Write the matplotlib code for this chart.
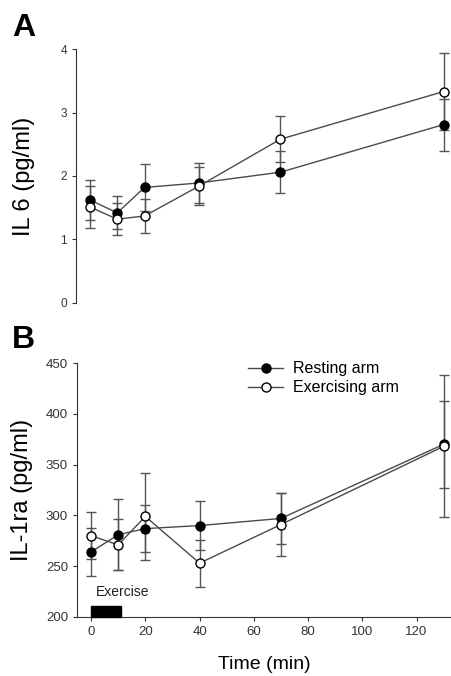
import matplotlib
matplotlib.use('Agg')
import matplotlib.pyplot as plt
from matplotlib.patches import Rectangle

plt.rcParams['font.family'] = ['Liberation Sans', 'DejaVu Sans']

# --- data ---
time = [0, 10, 20, 40, 70, 130]

il6_rest = [1.62, 1.42, 1.82, 1.89, 2.06, 2.81]
il6_rest_err = [0.31, 0.26, 0.37, 0.32, 0.33, 0.41]
il6_ex = [1.51, 1.32, 1.37, 1.84, 2.58, 3.33]
il6_ex_err = [0.33, 0.25, 0.27, 0.30, 0.36, 0.61]

il1ra_rest = [264, 281, 287, 290, 297, 370]
il1ra_rest_err = [24, 35, 23, 24, 25, 43]
il1ra_ex = [280, 271, 299, 253, 291, 368]
il1ra_ex_err = [23, 25, 43, 23, 31, 70]

exercise_window = (0, 11)

line_col = '#4a4a4a'
err_col = '#555555'
spine_col = '#333333'

fig = plt.figure(figsize=(4.51, 6.76), dpi=100)
axA = fig.add_axes([0.1685, 0.5518, 0.8315, 0.3757])
axB = fig.add_axes([0.1707, 0.0873, 0.8293, 0.3757])


def draw(ax, rest, rest_err, ex, ex_err):
    c1 = ax.errorbar(time, rest, yerr=rest_err, fmt='-o', color=line_col, ecolor=err_col,
                     elinewidth=1, capsize=3.5, capthick=1, lw=1,
                     mfc='black', mec='black', ms=6.5, label='Resting arm')
    c2 = ax.errorbar(time, ex, yerr=ex_err, fmt='-o', color=line_col, ecolor=err_col,
                     elinewidth=1, capsize=3.5, capthick=1, lw=1,
                     mfc='white', mec='black', mew=1, ms=6.5, label='Exercising arm')
    for s in ['top', 'right']:
        ax.spines[s].set_visible(False)
    ax.spines['left'].set_color(spine_col)
    ax.spines['bottom'].set_color(spine_col)
    ax.set_xlim(-5.2, 132.7)
    ax.tick_params(direction='out', length=3, color=spine_col, labelcolor='#333333')
    return c1, c2


# --- Panel A ---
draw(axA, il6_rest, il6_rest_err, il6_ex, il6_ex_err)
axA.set_ylim(0, 4)
axA.set_yticks([0, 1, 2, 3, 4])
axA.spines['bottom'].set_visible(False)
axA.set_xticks([])
axA.tick_params(axis='y', labelsize=8.5)
axA.set_ylabel('IL 6 (pg/ml)', fontsize=17)
axA.yaxis.set_label_coords(-0.109, 0.5)

# --- Panel B ---
r, e = draw(axB, il1ra_rest, il1ra_rest_err, il1ra_ex, il1ra_ex_err)
axB.set_ylim(200, 450)
axB.set_yticks([200, 250, 300, 350, 400, 450])
axB.set_xticks([0, 20, 40, 60, 80, 100, 120])
axB.tick_params(labelsize=9.5)
axB.set_ylabel('IL-1ra (pg/ml)', fontsize=17)
axB.yaxis.set_label_coords(-0.118, 0.5)
axB.set_xlabel('Time (min)', fontsize=14, labelpad=13)

axB.add_patch(Rectangle((exercise_window[0], 200), exercise_window[1] - exercise_window[0], 11,
                        color='black', clip_on=False, zorder=5))
axB.text(1.8, 224.5, 'Exercise', fontsize=10, va='center', ha='left', color='#222222')

axB.legend(handles=[r[0], e[0]], labels=['Resting arm', 'Exercising arm'],
           loc='upper left', bbox_to_anchor=(0.456, 1.006), frameon=False,
           fontsize=11.5, handlelength=2.25, handletextpad=0.6,
           borderpad=0, borderaxespad=0, labelspacing=0.25)

fig.text(12 / 451, 1 - 36.5 / 676, 'A', fontsize=23, fontweight='bold', va='baseline')
fig.text(12 / 451, 1 - 348 / 676, 'B', fontsize=23, fontweight='bold', va='baseline')

fig.savefig('out.png', dpi=100)
